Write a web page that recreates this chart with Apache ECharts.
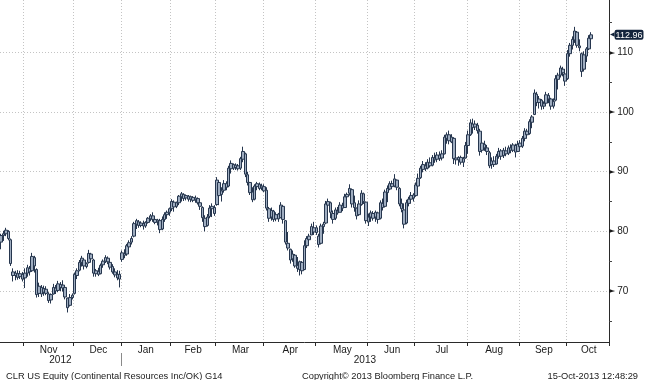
<!DOCTYPE html>
<html><head><meta charset="utf-8">
<script src="https://cdn.jsdelivr.net/npm/echarts@6/dist/echarts.min.js"></script>
<style>html,body{margin:0;padding:0;background:#fff}#c{width:645px;height:380px}</style>
</head><body><div id="c"></div>
<script>
// ---- DATA ----
const openP = [
78.2,79.3,79.6,80.0,78.6,73.2,72.6,72.9,72.4,72.8,
72.2,73.0,73.8,73.4,75.6,73.6,69.6,70.6,69.8,70.3,
69.5,68.5,69.5,70.5,70.1,71.1,70.5,70.6,68.8,67.6,
68.9,69.6,72.6,73.5,74.8,75.2,74.1,74.8,76.2,75.2,
72.9,73.3,72.9,74.4,75.0,75.5,74.8,74.1,73.2,72.8,
72.0,75.3,76.3,76.2,77.4,78.2,79.2,81.2,81.6,81.0,
81.3,80.9,81.5,82.1,82.6,82.0,81.6,81.8,80.4,82.0,
82.8,83.2,83.8,84.9,84.2,84.8,85.8,86.2,85.6,85.9,
85.4,85.7,85.3,85.5,84.8,84.0,82.2,81.0,82.5,83.8,
84.0,84.5,88.2,86.2,86.9,88.0,87.6,90.5,91.2,90.7,
91.0,90.6,92.1,93.0,89.5,88.2,86.6,85.4,87.5,87.9,
87.3,87.5,86.9,83.8,82.4,83.4,82.1,82.9,82.3,84.2,
81.8,78.0,77.0,75.4,76.0,74.3,73.6,74.8,73.6,77.6,
78.6,79.4,80.6,79.8,79.2,78.0,80.8,81.4,84.4,84.8,
83.0,82.2,83.4,83.2,84.3,84.0,85.8,86.4,87.0,84.8,
83.9,82.8,84.5,86.3,84.9,81.6,82.4,83.0,82.4,83.1,
82.2,84.7,84.2,86.5,87.1,88.0,87.6,88.6,87.2,84.7,
83.6,81.4,84.7,85.4,86.1,86.0,87.6,89.0,90.4,91.0,
90.6,91.5,91.1,92.3,92.1,92.8,92.3,93.0,95.6,96.2,
95.0,95.6,92.3,92.0,92.4,91.6,92.3,94.4,96.2,98.0,
97.5,97.8,96.8,93.6,94.6,94.0,93.2,91.2,91.8,91.3,
92.6,93.5,92.7,93.5,93.1,94.0,93.6,94.4,93.4,94.8,
94.3,95.6,96.8,96.4,98.3,99.6,103.0,101.6,102.0,101.0,
101.5,102.8,102.2,101.0,102.0,105.5,106.2,107.2,106.4,105.6,
109.8,111.2,112.1,113.4,111.1,109.8,107.2,109.4,110.6,112.3];
const closeP = [
79.3,79.6,80.2,78.8,74.6,72.6,73.0,72.3,72.9,72.0,
73.0,73.9,73.2,75.8,74.2,69.4,70.8,69.5,70.4,69.6,
68.4,69.4,70.6,70.0,71.2,70.6,71.0,69.0,67.2,68.9,
69.3,72.8,73.4,74.8,75.5,74.2,74.6,76.3,75.4,73.0,
73.4,72.8,74.3,75.0,75.6,74.9,74.0,73.2,72.7,72.2,
72.8,76.4,76.0,77.6,78.1,78.8,81.3,81.8,81.0,81.4,
80.9,81.5,82.2,82.6,82.0,81.5,81.9,80.3,82.0,82.8,
83.2,83.8,85.0,84.1,84.8,85.9,86.3,85.5,86.0,85.4,
85.8,85.2,85.6,84.8,84.2,82.3,80.8,82.4,83.9,84.2,
83.0,88.6,86.0,86.8,88.0,87.4,90.6,91.4,90.6,91.1,
90.5,92.2,93.4,89.6,88.2,86.5,85.3,87.6,88.0,87.2,
87.6,86.8,83.9,82.2,83.5,82.0,82.8,82.1,84.4,82.0,
78.2,77.2,75.2,76.2,74.2,73.8,74.9,73.4,77.6,78.8,
79.2,80.8,79.9,80.6,77.8,80.9,81.2,84.6,85.0,83.2,
82.0,83.6,83.1,84.4,83.9,85.8,86.2,87.2,84.6,84.0,
82.6,84.6,86.4,85.0,81.8,82.4,83.1,82.2,83.2,82.0,
84.8,84.0,86.6,87.2,88.0,87.5,88.8,87.4,84.6,83.8,
81.2,84.8,85.4,86.0,85.6,87.8,88.9,90.6,91.2,90.5,
91.6,91.0,92.4,92.0,92.8,92.2,93.0,95.8,96.2,95.2,
95.8,92.2,92.0,92.4,91.6,92.2,94.4,96.2,98.2,97.4,
98.0,96.9,93.4,94.8,94.0,93.4,91.0,91.8,91.2,92.6,
93.4,92.6,93.6,93.0,94.0,93.6,94.5,93.3,94.6,94.2,
95.6,96.8,96.2,98.4,99.2,103.2,101.6,102.2,101.0,101.4,
102.9,102.2,101.0,101.8,105.6,106.2,107.4,106.6,105.2,109.8,
111.2,112.2,113.6,111.2,110.8,106.8,109.6,110.6,112.4,112.96];
const lowP = [
77.0,78.4,79.2,78.5,74.2,71.6,71.8,71.9,72.0,71.6,
70.5,72.4,72.6,73.2,73.1,68.9,69.0,69.0,69.2,69.3,
68.0,67.9,69.4,69.5,69.8,70.0,69.9,68.6,66.4,67.4,
68.6,69.4,72.0,73.3,74.1,73.6,73.8,74.6,75.0,72.4,
72.4,72.5,72.8,73.9,74.7,74.5,73.6,72.9,72.3,71.8,
70.6,74.9,75.5,75.9,76.6,77.8,79.0,80.4,80.6,80.7,
80.3,80.6,81.3,81.7,81.6,81.2,81.0,79.7,80.2,81.6,
82.1,82.6,83.4,83.3,83.9,84.4,85.0,85.1,85.2,85.0,
84.9,84.9,84.8,84.5,83.6,81.6,80.0,80.8,82.2,82.4,
82.6,84.3,84.4,85.0,86.5,86.9,87.4,89.7,90.3,90.3,
90.2,90.3,91.6,89.1,87.7,86.1,84.9,85.2,86.9,86.9,
86.9,86.6,83.5,81.6,81.8,81.6,81.7,81.6,82.2,81.3,
77.8,76.8,74.6,74.9,73.9,73.2,72.6,72.8,73.5,77.2,
77.9,79.4,79.4,79.4,77.3,77.8,79.6,81.2,83.3,82.2,
81.3,81.9,82.8,83.2,83.4,84.0,84.6,86.0,84.0,83.3,
82.0,82.6,84.3,84.6,81.3,80.9,81.6,81.8,81.6,81.3,
82.0,83.5,84.0,84.9,86.9,87.1,87.4,86.9,84.2,83.2,
80.5,81.2,84.2,84.7,85.0,85.8,86.9,88.8,89.9,90.1,
90.4,90.7,90.9,91.5,91.6,91.8,91.9,92.9,94.7,94.6,
94.8,91.3,91.2,91.0,91.2,90.8,92.2,93.0,96.0,96.4,
97.0,96.4,92.7,93.2,93.5,92.8,90.6,90.5,90.8,91.2,
92.2,92.0,92.3,92.6,92.8,93.1,93.3,92.4,93.3,93.6,
94.0,95.1,95.6,96.2,97.3,99.5,101.0,100.6,100.4,100.5,
101.2,101.5,100.4,100.6,101.8,103.8,105.8,106.0,104.4,105.4,
109.3,110.5,111.6,110.8,110.2,105.9,106.8,108.4,110.4,111.4];
const highP = [
79.6,80.1,80.6,80.2,78.8,73.8,73.4,73.5,73.4,73.2,
73.8,74.4,74.2,76.4,75.9,73.8,71.4,71.0,70.9,70.8,
69.8,69.6,71.2,71.0,71.7,71.5,71.8,70.9,68.9,69.5,
69.6,73.1,73.8,75.2,75.9,75.4,74.8,76.9,76.4,75.4,
73.7,73.9,74.6,75.3,76.0,75.8,75.0,74.5,73.8,73.5,
73.4,76.8,77.0,77.9,78.5,79.2,81.6,82.1,81.9,81.7,
81.8,81.7,82.4,82.9,83.2,82.4,82.1,82.1,82.5,83.2,
83.5,84.0,85.4,85.2,85.0,86.1,86.6,86.4,86.2,86.1,
86.0,85.9,86.0,85.7,85.2,84.2,82.7,82.9,84.4,84.7,
84.4,89.1,88.4,87.4,88.6,88.4,91.0,91.9,91.4,91.4,
91.3,92.5,94.2,93.2,90.0,88.3,87.4,87.9,88.3,88.2,
88.0,87.9,87.4,84.1,84.0,83.6,83.2,83.1,84.9,84.4,
81.9,79.9,77.1,76.8,76.2,75.7,75.1,75.0,78.5,79.2,
79.6,81.3,81.6,81.0,79.6,81.3,81.6,85.1,85.5,85.0,
83.5,84.0,84.1,84.9,84.8,86.3,86.5,87.9,87.2,86.0,
84.0,85.2,86.9,86.5,85.0,83.0,83.5,83.4,83.5,83.3,
85.2,85.5,87.0,87.7,88.4,88.5,89.6,88.7,87.4,85.5,
84.7,85.3,85.8,86.6,86.4,88.2,89.7,91.0,91.8,91.6,
92.1,92.4,92.8,93.2,93.3,93.4,93.6,96.2,96.6,96.9,
96.3,95.8,93.0,92.6,92.7,92.5,95.0,96.9,98.8,98.9,
98.6,98.2,97.2,95.4,95.2,94.5,93.5,92.4,92.6,93.0,
94.0,93.8,94.0,94.2,94.4,94.6,94.8,94.7,95.2,95.3,
96.0,97.3,97.2,98.8,99.5,103.8,103.4,102.7,102.2,101.8,
103.4,103.2,102.4,102.3,106.2,106.6,107.8,107.6,107.2,110.4,
111.6,112.7,114.3,113.6,112.2,110.0,110.2,110.9,112.9,113.4];

// trading calendar (weekdays minus market closures)
const startDate = '2012-10-16';
const endDate = '2013-10-15';
const closedDays = ['2012-10-29','2012-10-30','2012-11-22','2012-12-25','2013-01-01','2013-01-21',
  '2013-02-18','2013-03-29','2013-05-27','2013-07-04','2013-09-02'];
const padSlots = 7;
const monthNames = ['Jan','Feb','Mar','Apr','May','Jun','Jul','Aug','Sep','Oct','Nov','Dec'];
const yTicks = [70, 80, 90, 100, 110];
const yMinorTicks = [65, 75, 85, 95, 105, 115];
const yRange = [61.45, 118.8];
const footerLeft = 'CLR US Equity (Continental Resources Inc/OK) G14';
const footerCenter = 'Copyright\u00a9 2013 Bloomberg Finance L.P.';
const footerRight = '15-Oct-2013 12:48:29';

// ---- BUILD ----
function tradingDays() {
  const out = [];
  let t = Date.parse(startDate + 'T00:00:00Z');
  const end = Date.parse(endDate + 'T00:00:00Z');
  while (t <= end) {
    const d = new Date(t);
    const w = d.getUTCDay();
    const s = d.toISOString().slice(0, 10);
    if (w !== 0 && w !== 6 && closedDays.indexOf(s) < 0) out.push(s);
    t += 86400000;
  }
  return out;
}
const dates = tradingDays();
const categories = dates.slice();
for (let i = 0; i < padSlots; i++) categories.push('pad' + i);
const N = categories.length;

const monthStarts = [];
for (let i = 1; i < dates.length; i++) if (dates[i].slice(0, 7) !== dates[i - 1].slice(0, 7)) monthStarts.push(i);
const monthStartSet = new Set(monthStarts);
const monthLabelAt = new Map();
monthStarts.forEach((s, k) => {
  const e = (k + 1 < monthStarts.length ? monthStarts[k + 1] : N) - 1;
  monthLabelAt.set(Math.round((s + e) / 2), monthNames[+dates[s].slice(5, 7) - 1]);
});
// year axis on a slot-count scale [0, N]
const yearStarts = [0];
for (let i = 1; i < dates.length; i++) if (dates[i].slice(0, 4) !== dates[i - 1].slice(0, 4)) yearStarts.push(i);
const yearCenters = [], yearNames = [];
yearStarts.forEach((s, k) => {
  const e = k + 1 < yearStarts.length ? yearStarts[k + 1] : N;
  yearCenters.push((s + e) / 2);
  yearNames.push(dates[s].slice(0, 4));
});
const yearSepValues = yearStarts.slice(1);

const candles = openP.map((o, i) => [o, closeP[i], lowP[i], highP[i]]);
const lastClose = closeP[closeP.length - 1];

const FONT = 'Liberation Sans';
const TXT = '#1a1a1a';
const chart = echarts.init(document.getElementById('c'), null, {renderer: 'canvas'});
chart.setOption({
  animation: false,
  backgroundColor: '#ffffff',
  title: [
    {text: footerLeft, left: 1, top: 367, textStyle: {fontSize: 9.3, fontWeight: 'normal', color: TXT, fontFamily: FONT}},
    {text: footerCenter, left: 297, top: 367, textStyle: {fontSize: 9.3, fontWeight: 'normal', color: TXT, fontFamily: FONT}},
    {text: footerRight, right: 2, top: 367, textStyle: {fontSize: 9.3, fontWeight: 'normal', color: TXT, fontFamily: FONT}}
  ],
  grid: {left: 0, right: 36, top: 0, bottom: 38, containLabel: false, outerBoundsMode: 'none'},
  xAxis: [{
    type: 'category', data: categories, boundaryGap: true,
    axisLine: {show: true, onZero: false, lineStyle: {color: '#2a2a2a', width: 1}},
    axisTick: {show: true, interval: (i) => monthStartSet.has(i), length: 4, lineStyle: {color: '#2a2a2a'}},
    axisLabel: {interval: (i) => monthLabelAt.has(i), formatter: (v, i) => monthLabelAt.get(i) || '',
      fontSize: 10, color: TXT, fontFamily: FONT, margin: 3},
    splitLine: {show: true, interval: (i) => monthStartSet.has(i), lineStyle: {color: '#c4c4c4', type: [1, 2], width: 1}}
  }, {
    type: 'value', min: 0, max: N, position: 'bottom', offset: 11,
    axisLine: {show: false, onZero: false},
    axisTick: {show: true, customValues: yearSepValues, length: 13, lineStyle: {color: '#8a8a8a', width: 1}},
    axisLabel: {customValues: yearCenters, showMinLabel: true, showMaxLabel: true,
      formatter: (v) => yearNames[yearCenters.indexOf(v)] || '',
      fontSize: 10, color: TXT, fontFamily: FONT, margin: 2},
    splitLine: {show: false}
  }],
  yAxis: [{
    type: 'value', position: 'right', min: yRange[0], max: yRange[1],
    axisLine: {show: true, onZero: false, lineStyle: {color: '#2a2a2a', width: 1}},
    axisTick: {show: false, customValues: yTicks},
    axisLabel: {customValues: yTicks, showMinLabel: true, showMaxLabel: true, margin: 0,
      formatter: (v) => '{a|\u25BA}{b|' + v + '}',
      rich: {a: {fontSize: 8, color: TXT, fontFamily: 'DejaVu Sans', padding: [0, 2, 0, 0]},
             b: {fontSize: 10, color: TXT, fontFamily: FONT}}},
    splitLine: {show: true, lineStyle: {color: '#c4c4c4', type: [1, 2], width: 1}}
  }, {
    type: 'value', position: 'right', min: yRange[0], max: yRange[1],
    axisLine: {show: false, onZero: false},
    axisTick: {show: true, customValues: yMinorTicks, length: 3, lineStyle: {color: '#444'}},
    axisLabel: {show: false},
    splitLine: {show: false}
  }, {
    type: 'value', position: 'right', min: yRange[0], max: yRange[1],
    axisLine: {show: false, onZero: false}, axisTick: {show: false}, splitLine: {show: false},
    axisLabel: {customValues: [lastClose], margin: 1, showMinLabel: true, showMaxLabel: true,
      formatter: (v) => '{a|\u25C0}{b|' + v.toFixed(2) + '}',
      rich: {a: {fontSize: 6, color: '#14243c', fontFamily: 'DejaVu Sans', lineHeight: 12},
             b: {fontSize: 9, color: '#ffffff', fontFamily: FONT, backgroundColor: '#14243c',
                 padding: [1, 1, 0, 1], borderRadius: 2, lineHeight: 12}}}
  }],
  series: [{
    type: 'candlestick', xAxisIndex: 0, yAxisIndex: 0, data: candles, barWidth: 3,
    itemStyle: {color: '#9fadc0', color0: '#9fadc0', borderColor: '#26364e', borderColor0: '#26364e', borderWidth: 1}
  }]
});
</script>
</body></html>
